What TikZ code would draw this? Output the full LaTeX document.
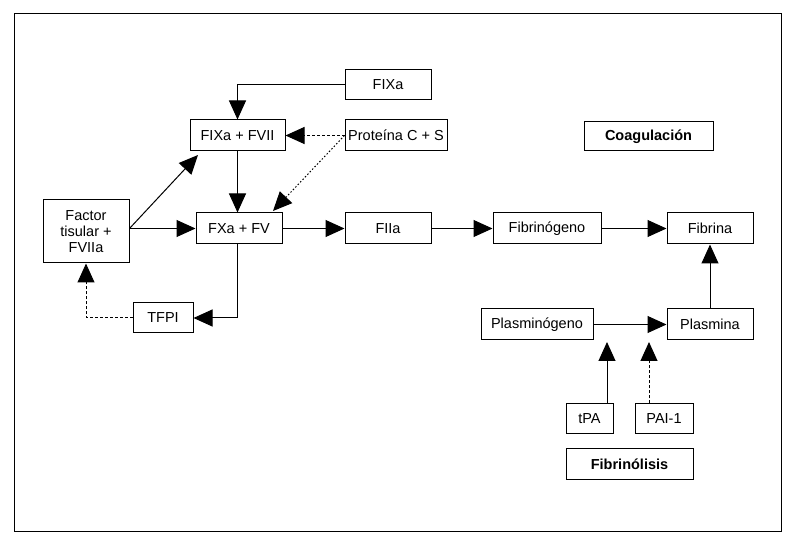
\documentclass[tikz,border=0pt]{standalone}
\usepackage{fontspec}
\setmainfont{Liberation Sans}
\usetikzlibrary{arrows.meta}
\begin{document}
\begin{tikzpicture}[x=1pt,y=-1pt,
  box/.style={draw, line width=1pt, inner sep=0pt, font=\fontsize{14.5}{15}\selectfont, align=center},
  conn/.style={line width=1pt, -{Triangle[length=19pt,width=17pt]}},
  dconn/.style={conn, dash pattern=on 3pt off 2pt},
  dotconn/.style={conn, dash pattern=on 1.5pt off 2pt}]
\useasboundingbox (0,0) rectangle (796,545);
\draw[line width=1pt] (14,14) rectangle (781,531);
\node[box, minimum width=86pt, minimum height=30pt] (fixa) at (388,85) {FIXa};
\node[box, minimum width=95pt, minimum height=31pt] (fixafvii) at (237.5,135.5) {FIXa + FVII};
\node[box, minimum width=102pt, minimum height=31pt] (prot) at (396,135.5) {Proteína C + S};
\node[box, minimum width=86pt, minimum height=63pt, font=\fontsize{14.5}{16}\selectfont] (factor) at (86,231.5) {Factor\\tisular +\\FVIIa};
\node[box, minimum width=86pt, minimum height=31pt] (fxa) at (239,228.5) {FXa + FV};
\node[box, minimum width=86pt, minimum height=31pt] (fiia) at (388,228.5) {FIIa};
\node[box, minimum width=60pt, minimum height=30pt] (tfpi) at (163,318) {TFPI};
\node[box, minimum width=108pt, minimum height=31pt] (fibrinog) at (547,228.5) {Fibrinógeno};
\node[box, minimum width=86pt, minimum height=31pt] (fibrina) at (710,228.5) {Fibrina};
\node[box, minimum width=129pt, minimum height=29pt, font=\fontsize{14.5}{15}\selectfont\bfseries] (coag) at (648.5,136.5) {Coagulación};
\node[box, minimum width=112pt, minimum height=31pt] (plasminog) at (537,324.5) {Plasminógeno};
\node[box, minimum width=86pt, minimum height=31pt] (plasmina) at (710,324.5) {Plasmina};
\node[box, minimum width=47pt, minimum height=30pt] (tpa) at (589.5,419) {tPA};
\node[box, minimum width=58pt, minimum height=30pt] (pai) at (664,419) {PAI-1};
\node[box, minimum width=127pt, minimum height=31pt, font=\fontsize{14.5}{15}\selectfont\bfseries] (fibrinol) at (629.5,464.5) {Fibrinólisis};
\coordinate (diagend) at (198,155);
\coordinate (dotend) at (273,211);
\coordinate (tpaend) at (607,342);
\coordinate (paiend) at (649,342);
\coordinate (fstart) at (factor.east |- fxa.west);
\draw[conn] (fixa.west) -| (fixafvii.north);
\draw[dconn] (prot.west) -- (fixafvii.east);
\draw[dotconn] (prot.west) -- (dotend);
\draw[conn] (fixafvii.south) -- (fxa.north -| fixafvii.south);
\draw[conn] (fstart) -- (fxa.west);
\draw[conn] (fstart) -- (diagend);
\draw[conn] (fxa.east) -- (fiia.west);
\draw[conn] (fiia.east) -- (fibrinog.west);
\draw[conn] (fibrinog.east) -- (fibrina.west);
\draw[conn] (fxa.south -| fixafvii.south) |- (tfpi.east);
\draw[dconn] (tfpi.west) -| (factor.south);
\draw[conn] (plasmina.north) -- (fibrina.south);
\draw[conn] (plasminog.east) -- (plasmina.west);
\draw[conn] (tpa.north -| tpaend) -- (tpaend);
\draw[dconn] (pai.north -| paiend) -- (paiend);
\end{tikzpicture}
\end{document}
